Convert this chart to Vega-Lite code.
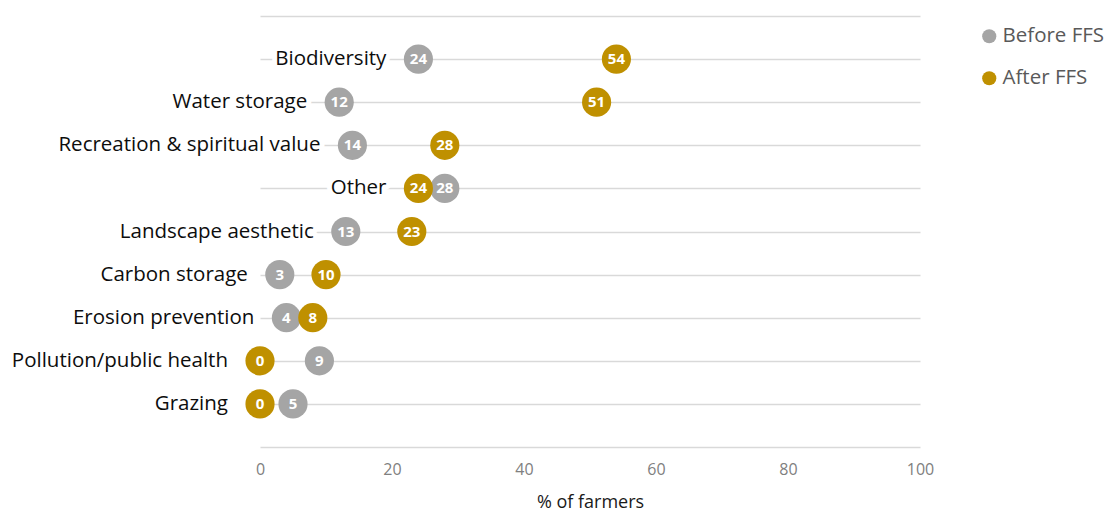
{
  "$schema": "https://vega.github.io/schema/vega-lite/v6.json",
  "width": 660,
  "height": 431,
  "autosize": {"type": "none"},
  "padding": {"left": 260, "top": 16, "right": 186, "bottom": 66},
  "config": {"view": {"stroke": null}, "font": "Open Sans"},
  "data": {
    "values": [
      {"service": "Biodiversity", "period": "Before FFS", "pct": 24},
      {"service": "Water storage", "period": "Before FFS", "pct": 12},
      {"service": "Recreation & spiritual value", "period": "Before FFS", "pct": 14},
      {"service": "Other", "period": "Before FFS", "pct": 28},
      {"service": "Landscape aesthetic", "period": "Before FFS", "pct": 13},
      {"service": "Carbon storage", "period": "Before FFS", "pct": 3},
      {"service": "Erosion prevention", "period": "Before FFS", "pct": 4},
      {"service": "Pollution/public health", "period": "Before FFS", "pct": 9},
      {"service": "Grazing", "period": "Before FFS", "pct": 5},
      {"service": "Biodiversity", "period": "After FFS", "pct": 54},
      {"service": "Water storage", "period": "After FFS", "pct": 51},
      {"service": "Recreation & spiritual value", "period": "After FFS", "pct": 28},
      {"service": "Other", "period": "After FFS", "pct": 24},
      {"service": "Landscape aesthetic", "period": "After FFS", "pct": 23},
      {"service": "Carbon storage", "period": "After FFS", "pct": 10},
      {"service": "Erosion prevention", "period": "After FFS", "pct": 8},
      {"service": "Pollution/public health", "period": "After FFS", "pct": 0},
      {"service": "Grazing", "period": "After FFS", "pct": 0}
    ]
  },
  "encoding": {
    "y": {
      "field": "service",
      "type": "nominal",
      "sort": ["Biodiversity", "Water storage", "Recreation & spiritual value", "Other", "Landscape aesthetic", "Carbon storage", "Erosion prevention", "Pollution/public health", "Grazing"],
      "scale": {"type": "point", "padding": 1},
      "axis": {"title": null, "labels": false, "ticks": false, "domain": false, "grid": true, "gridColor": "#d9d9d9", "gridWidth": 1.5}
    }
  },
  "resolve": {"axis": {"x": "independent"}},
  "layer": [
    {
      "mark": {"type": "point", "filled": true, "size": 850, "opacity": 1},
      "encoding": {
        "x": {
          "field": "pct",
          "type": "quantitative",
          "scale": {"domain": [0, 100], "nice": false},
          "axis": {
            "title": "% of farmers",
            "values": [0, 20, 40, 60, 80, 100],
            "grid": false,
            "ticks": false,
            "domain": true,
            "domainColor": "#d9d9d9",
            "domainWidth": 1.5,
            "labelFlush": false,
            "labelFontSize": 16,
            "labelColor": "#808080",
            "labelPadding": 14,
            "titleFontSize": 18,
            "titleFontWeight": "normal",
            "titleColor": "#1a1a1a",
            "titlePadding": 16
          }
        },
        "color": {
          "field": "period",
          "type": "nominal",
          "scale": {"domain": ["Before FFS", "After FFS"], "range": ["#a5a5a5", "#bf9000"]},
          "legend": {
            "title": null,
            "orient": "none",
            "legendX": 719,
            "legendY": 10,
            "padding": 0,
            "symbolType": "circle",
            "symbolSize": 201,
            "symbolStrokeWidth": 0,
            "labelFontSize": 20.5,
            "labelColor": "#595959",
            "labelOffset": 3,
            "rowPadding": 21
          }
        }
      }
    },
    {
      "mark": {"type": "text", "color": "white", "fontWeight": "bold", "fontSize": 15, "align": "center", "baseline": "middle"},
      "encoding": {
        "x": {
          "field": "pct",
          "type": "quantitative",
          "axis": {"orient": "top", "title": null, "labels": false, "ticks": false, "grid": false, "domain": true, "domainColor": "#d9d9d9", "domainWidth": 1.5}
        },
        "text": {"field": "pct", "type": "quantitative"}
      }
    },
    {
      "transform": [
        {"aggregate": [{"op": "min", "field": "pct", "as": "lowest"}], "groupby": ["service"]}
      ],
      "encoding": {
        "x": {"field": "lowest", "type": "quantitative", "axis": null},
        "text": {"field": "service", "type": "nominal"}
      },
      "layer": [
        {"mark": {"type": "text", "align": "right", "baseline": "middle", "dx": -32, "fontSize": 20.5, "color": "white", "stroke": "white", "strokeWidth": 10, "strokeJoin": "round"}},
        {"mark": {"type": "text", "align": "right", "baseline": "middle", "dx": -32, "fontSize": 20.5, "color": "#0d0d0d"}}
      ]
    }
  ]
}
